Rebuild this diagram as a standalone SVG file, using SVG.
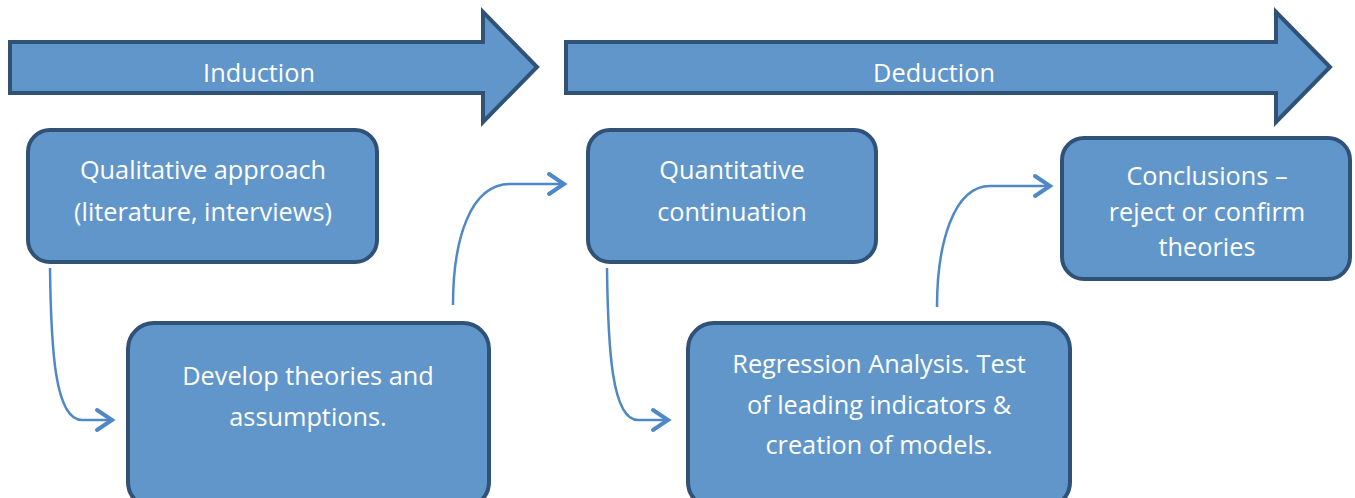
<svg xmlns="http://www.w3.org/2000/svg" width="1355" height="498" viewBox="0 0 1355 498">
  <style>
    .shape { fill: #6196ca; stroke: #2f5276; stroke-width: 4; stroke-linejoin: miter; }
    .box { fill: #6196ca; stroke: #2f5276; stroke-width: 4; }
    .label { font-family: "Open Sans", "Liberation Sans", sans-serif; font-size: 25.3px; fill: #ffffff; text-anchor: middle; }
    .link { fill: none; stroke: #4f88c6; stroke-width: 2.5; }
    .head { fill: none; stroke: #4f88c6; stroke-width: 4; stroke-linecap: round; stroke-linejoin: miter; }
  </style>

  <rect width="1355" height="498" fill="#ffffff"/>

  <!-- Phase arrows -->
  <g id="induction">
    <polygon class="shape" points="10,42 483,42 483,12 537,67 483,122 483,93 10,93"/>
    <text class="label" x="259" y="82">Induction</text>
  </g>
  <g id="deduction">
    <polygon class="shape" points="566,42 1276,42 1276,12 1330,67 1276,122 1276,93 566,93"/>
    <text class="label" x="934" y="82">Deduction</text>
  </g>

  <!-- Connectors -->
  <g id="connectors">
    <path class="link" d="M50,268 C51,350 55,420 82,420 L110,420"/>
    <path class="head" d="M97,410 L112,420 L97,430"/>
    <path class="link" d="M453,305 C453,240 470,184 510,184 L562,184"/>
    <path class="head" d="M549,174 L564,184 L549,194"/>
    <path class="link" d="M607,268 C608,350 612,420 638,420 L666,420"/>
    <path class="head" d="M653,410 L668,420 L653,430"/>
    <path class="link" d="M937,307 C937,245 953,186 990,186 L1048,186"/>
    <path class="head" d="M1035,176 L1050,186 L1035,196"/>
  </g>

  <!-- Process boxes -->
  <g id="qualitative">
    <rect class="box" x="28" y="130" width="349" height="132" rx="22"/>
    <text class="label" x="203" y="179">Qualitative approach</text>
    <text class="label" x="203" y="221">(literature, interviews)</text>
  </g>
  <g id="develop">
    <rect class="box" x="128" y="323" width="361" height="185" rx="26"/>
    <text class="label" x="308" y="385">Develop theories and</text>
    <text class="label" x="308" y="426">assumptions.</text>
  </g>
  <g id="quantitative">
    <rect class="box" x="588" y="130" width="288" height="132" rx="22"/>
    <text class="label" x="732" y="179">Quantitative</text>
    <text class="label" x="732" y="221">continuation</text>
  </g>
  <g id="regression">
    <rect class="box" x="688" y="323" width="382" height="185" rx="26"/>
    <text class="label" x="879" y="373">Regression Analysis. Test</text>
    <text class="label" x="879" y="414">of leading indicators &amp;</text>
    <text class="label" x="879" y="454">creation of models.</text>
  </g>
  <g id="conclusions">
    <rect class="box" x="1062" y="138" width="288" height="141" rx="22"/>
    <text class="label" x="1207" y="185">Conclusions –</text>
    <text class="label" x="1207" y="221">reject or confirm</text>
    <text class="label" x="1207" y="256">theories</text>
  </g>
</svg>
